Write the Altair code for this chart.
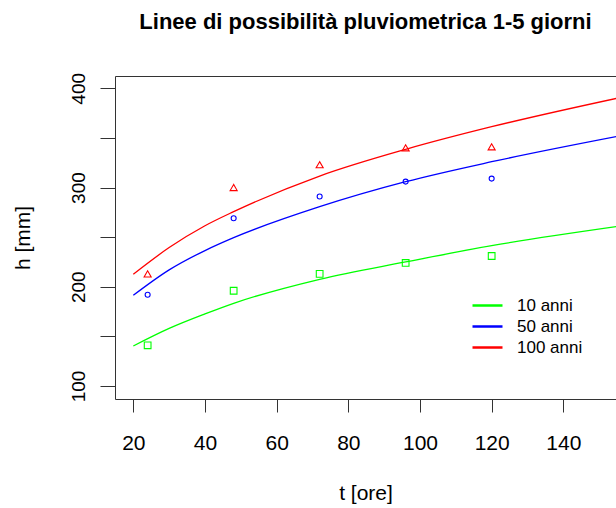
import altair as alt
import pandas as pd

# Return periods shown in the legend
series = ["10 anni", "50 anni", "100 anni"]
colors = ["#00FF00", "#0000FF", "#FF0000"]
shapes = ["square", "circle", "triangle-up"]
marker_sizes = [45, 25, 50]

# Observed maximum rainfall depths for durations of 1-5 days
durations = [24, 48, 72, 96, 120]
obs_10 = [141, 196, 213, 224, 231]
obs_50 = [192, 269, 291, 306, 309]
obs_100 = [213, 300, 323, 340, 341]

# Fitted rainfall possibility curves h(t)
curve_t = [20, 30, 40, 48, 72, 96, 120, 155]
curve_10 = [140.3, 158.0, 172.6, 183.3, 207.5, 225.0, 241.4, 260.7]
curve_50 = [191.4, 217.0, 236.5, 249.5, 280.7, 305.9, 326.0, 351.5]
curve_100 = [212.6, 239.5, 261.5, 275.7, 311.6, 338.5, 361.3, 390.0]

curves = pd.DataFrame(
    [(t, h, s) for s, vals in zip(series, [curve_10, curve_50, curve_100])
     for t, h in zip(curve_t, vals)],
    columns=["t", "h", "serie"],
)
points = pd.DataFrame(
    [(t, h, s) for s, vals in zip(series, [obs_10, obs_50, obs_100])
     for t, h in zip(durations, vals)],
    columns=["t", "h", "serie"],
)

FONT = "Liberation Sans"
AXIS_COLOR = "#333333"

x_scale = alt.Scale(domain=[14.89, 154.7], nice=False, zero=False)
y_scale = alt.Scale(domain=[86.9, 412.4], nice=False, zero=False)
color_scale = alt.Scale(domain=series, range=colors)

lines = alt.Chart(curves).mark_line(strokeWidth=1.3, clip=True, interpolate="monotone").encode(
    x=alt.X("t:Q", scale=x_scale,
            axis=alt.Axis(values=[20, 40, 60, 80, 100, 120, 140], tickSize=13,
                          labelFontSize=21, labelPadding=20, title="t [ore]",
                          titleFontSize=21, titleFontWeight="normal",
                          titleY=94, titleBaseline="middle")),
    y=alt.Y("h:Q", scale=y_scale,
            axis=alt.Axis(values=[100, 150, 200, 250, 300, 350, 400], tickSize=15,
                          labelExpr="datum.value % 100 == 0 ? datum.label : ''",
                          labelAngle=-90, labelAlign="center", labelBaseline="bottom",
                          labelFontSize=19, labelPadding=12, title="h [mm]",
                          titleFontSize=21, titleFontWeight="normal",
                          titleX=-92, titleBaseline="middle")),
    color=alt.Color("serie:N", scale=color_scale, sort=series,
                    legend=alt.Legend(orient="none", legendX=364, legendY=221,
                                      title=None, symbolType="M-3,0L3,0",
                                      symbolSize=100, symbolStrokeWidth=2.5,
                                      labelFontSize=17, labelFont=FONT,
                                      labelOffset=21, rowPadding=3, padding=0)),
    detail="serie:N",
)

# One marker layer per return period, each with its own open symbol
marker_layers = []
for i, (name, colour, shape, size) in enumerate(zip(series, colors, shapes, marker_sizes)):
    sub = points[points["serie"] == name]
    x_axis = None
    if i == 0:
        # frame line along the top of the plot
        x_axis = alt.Axis(orient="top", labels=False, ticks=False, title=None, grid=False)
    marker_layers.append(
        alt.Chart(sub).mark_point(filled=False, strokeWidth=1.1, size=size, shape=shape,
                                  color=colour, opacity=1).encode(
            x=alt.X("t:Q", scale=x_scale, axis=x_axis),
            y=alt.Y("h:Q", scale=y_scale),
        )
    )

chart = (
    alt.layer(lines, *marker_layers)
    .resolve_axis(x="independent")
    .properties(
        width=501,
        height=323,
        autosize=alt.AutoSizeParams(type="none"),
        padding={"left": 115, "top": 76, "right": 0, "bottom": 109},
        title=alt.Title("Linee di possibilità pluviometrica 1-5 giorni",
                        fontSize=22, fontWeight="bold", font=FONT,
                        anchor="middle", baseline="alphabetic", offset=21,
                        color="black"),
    )
    .configure(font=FONT)
    .configure_view(stroke=None)
    .configure_axis(grid=False, domainColor=AXIS_COLOR, domainWidth=1,
                    tickColor=AXIS_COLOR, tickWidth=1, labelColor="black",
                    titleColor="black", labelFont=FONT, titleFont=FONT)
    .configure_legend(labelColor="black")
)

chart.save("out.html", embed_options={"renderer": "svg", "actions": False})
